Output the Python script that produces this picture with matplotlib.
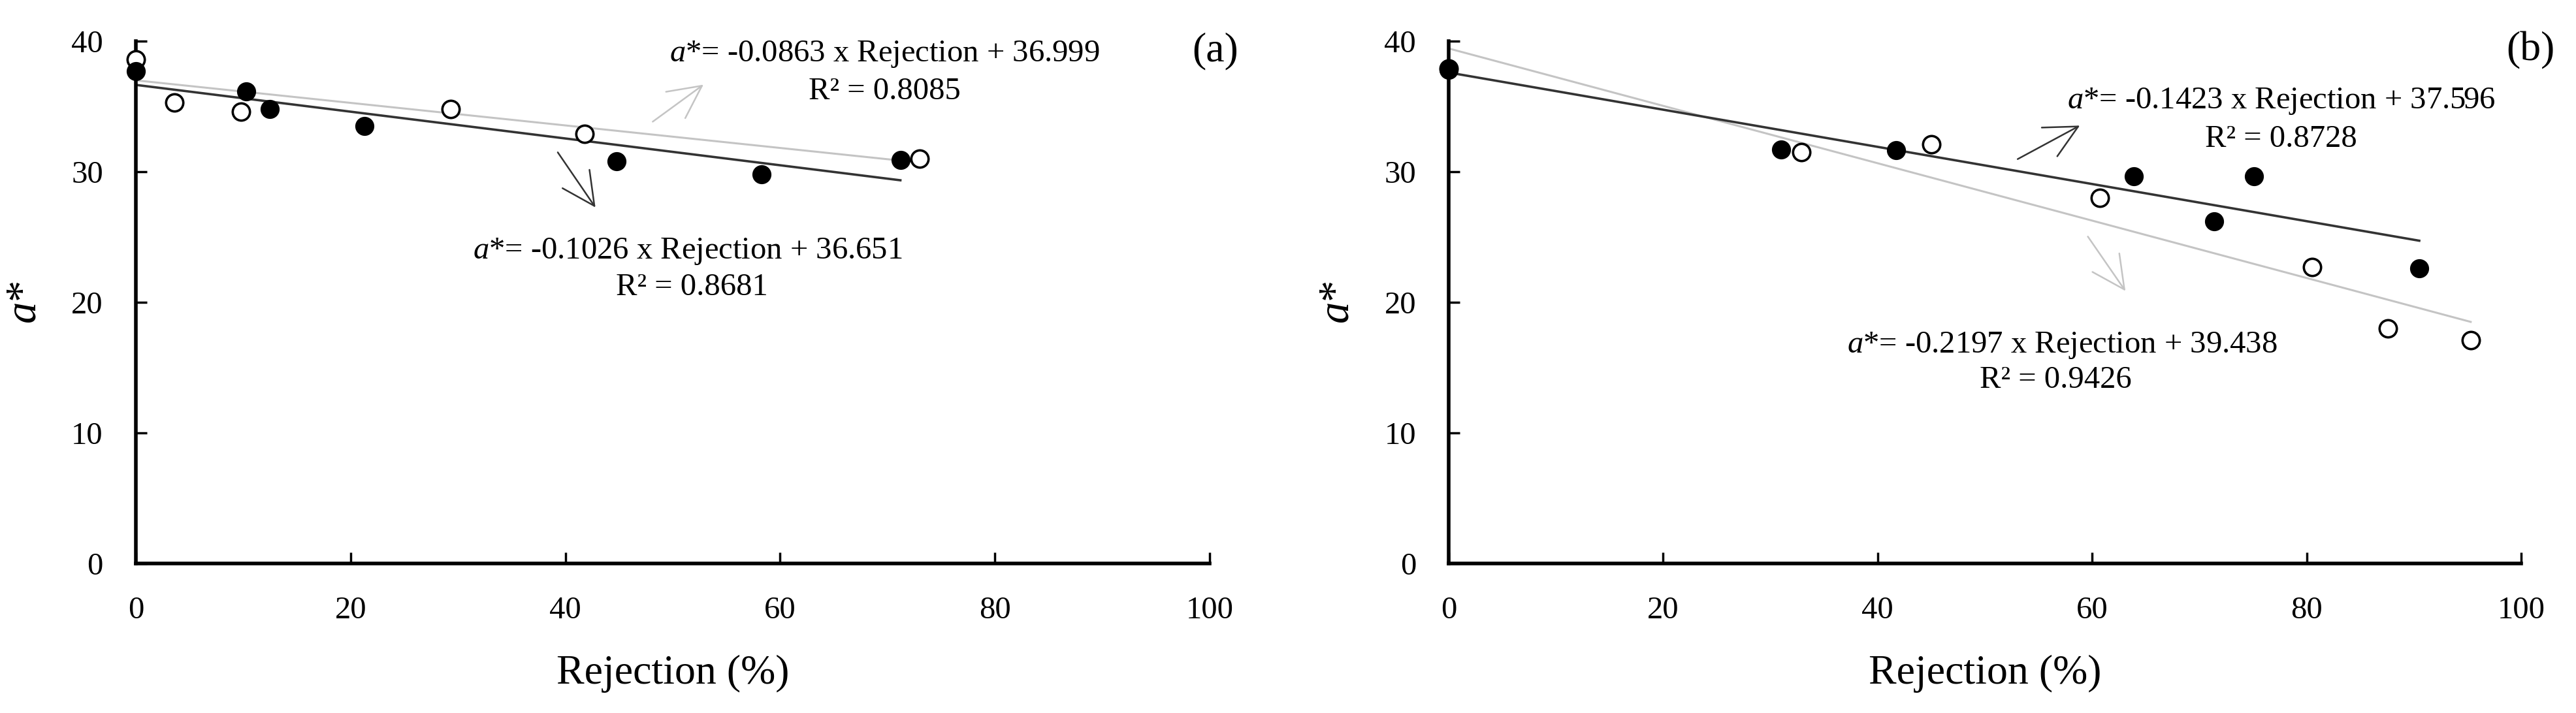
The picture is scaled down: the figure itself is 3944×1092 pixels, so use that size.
import matplotlib
matplotlib.use("Agg")
import matplotlib.pyplot as plt
import numpy as np

plt.rcParams['font.family'] = ['Liberation Serif', 'DejaVu Serif']
plt.rcParams['mathtext.fontset'] = 'custom'
plt.rcParams['mathtext.rm'] = 'Liberation Serif'
plt.rcParams['mathtext.it'] = 'Liberation Serif:italic'

# panel (a)
a_filled_x = [0.0, 10.3, 12.5, 21.3, 44.8, 58.3, 71.2]
a_filled_y = [37.7, 36.15, 34.8, 33.5, 30.8, 29.8, 30.9]
a_open_x = [0.0, 3.6, 9.8, 29.3, 41.8, 73.0]
a_open_y = [38.6, 35.3, 34.6, 34.8, 32.9, 31.0]
a_fit_filled = (-0.1026, 36.651, 0.8681)
a_fit_open = (-0.0863, 36.999, 0.8085)

# panel (b)
b_filled_x = [0.0, 31.0, 41.7, 63.9, 71.4, 75.1, 90.5]
b_filled_y = [37.8, 31.7, 31.65, 29.65, 26.2, 29.65, 22.6]
b_open_x = [0.0, 32.9, 45.0, 60.7, 80.5, 87.6, 95.3]
b_open_y = [37.9, 31.5, 32.1, 28.0, 22.7, 18.0, 17.1]
b_fit_filled = (-0.1423, 37.596, 0.8728)
b_fit_open = (-0.2197, 39.438, 0.9426)

x_ticks = [0, 20, 40, 60, 80, 100]
y_ticks = [0, 10, 20, 30, 40]

GRAY = '#c4c4c4'
DARK = '#333333'
EQ_SIZE = 35


def eq_text(fit):
    return r"$a$*= %.4f x Rejection + %.3f" % (fit[0], fit[1])


def r2_text(fit):
    return "R\u00b2 = %.4f" % fit[2]


def draw_panel(ax, fx, fy, ox, oy, fit_f, fit_o):
    # trend lines over the range of each series
    xo = np.array([min(ox), max(ox)])
    ax.plot(xo, fit_o[0] * xo + fit_o[1], color=GRAY, lw=2.2, zorder=2)
    xf = np.array([min(fx), max(fx)])
    ax.plot(xf, fit_f[0] * xf + fit_f[1], color=DARK, lw=2.6, zorder=2)

    ax.plot(ox, oy, 'o', ms=19, mfc='white', mec='black', mew=2.6,
            ls='none', clip_on=False, zorder=3)
    ax.plot(fx, fy, 'o', ms=19, mfc='black', mec='black', mew=2.0,
            ls='none', clip_on=False, zorder=4)

    ax.set_xlim(0, 100)
    ax.set_ylim(0, 40)
    ax.set_xticks(x_ticks)
    ax.set_yticks(y_ticks)
    for s in ['top', 'right']:
        ax.spines[s].set_visible(False)
    for s in ['left', 'bottom']:
        ax.spines[s].set_linewidth(4)
    ax.tick_params(direction='in', length=12, width=2.5, labelsize=35)
    ax.tick_params(axis='x', pad=36)
    ax.tick_params(axis='y', pad=36)
    ax.set_xlabel('Rejection (%)', fontsize=46)
    ax.set_ylabel(r'$a$*', fontsize=48)
    ax.xaxis.set_label_coords(0.5, -0.175)
    ax.yaxis.set_label_coords(-0.085, 0.5)


fig = plt.figure(figsize=(39.44, 10.92), dpi=100)
ax1 = fig.add_axes([0.0527, 0.2097, 0.4169, 0.7326])
ax2 = fig.add_axes([0.5624, 0.2097, 0.4163, 0.7326])

draw_panel(ax1, a_filled_x, a_filled_y, a_open_x, a_open_y, a_fit_filled, a_fit_open)
draw_panel(ax2, b_filled_x, b_filled_y, b_open_x, b_open_y, b_fit_filled, b_fit_open)

arrow = dict(arrowstyle='->,head_length=0.9,head_width=0.45', lw=1.8, mutation_scale=40)

# panel (a) annotations
ax1.text(69.7, 39.0, eq_text(a_fit_open), fontsize=EQ_SIZE, ha='center', va='center')
ax1.text(69.7, 36.15, r2_text(a_fit_open), fontsize=EQ_SIZE, ha='center', va='center')
ax1.annotate('', xy=(53.0, 36.75), xytext=(48.0, 33.75),
             arrowprops=dict(arrow, color=GRAY))
ax1.text(51.4, 23.9, eq_text(a_fit_filled), fontsize=EQ_SIZE, ha='center', va='center')
ax1.text(51.8, 21.15, r2_text(a_fit_filled), fontsize=EQ_SIZE, ha='center', va='center')
ax1.annotate('', xy=(42.9, 27.15), xytext=(39.2, 31.6),
             arrowprops=dict(arrow, color=DARK))
ax1.text(100.5, 39.25, '(a)', fontsize=46, ha='center', va='center')

# panel (b) annotations
ax2.text(77.6, 35.4, eq_text(b_fit_filled), fontsize=EQ_SIZE, ha='center', va='center')
ax2.text(77.6, 32.5, r2_text(b_fit_filled), fontsize=EQ_SIZE, ha='center', va='center')
ax2.annotate('', xy=(59.0, 33.6), xytext=(52.9, 30.9),
             arrowprops=dict(arrow, color=DARK))
ax2.text(57.2, 16.7, eq_text(b_fit_open), fontsize=EQ_SIZE, ha='center', va='center')
ax2.text(56.6, 14.05, r2_text(b_fit_open), fontsize=EQ_SIZE, ha='center', va='center')
ax2.annotate('', xy=(63.2, 20.75), xytext=(59.5, 25.15),
             arrowprops=dict(arrow, color=GRAY))
ax2.text(100.9, 39.3, '(b)', fontsize=46, ha='center', va='center')

fig.savefig('out.png', dpi=100)
